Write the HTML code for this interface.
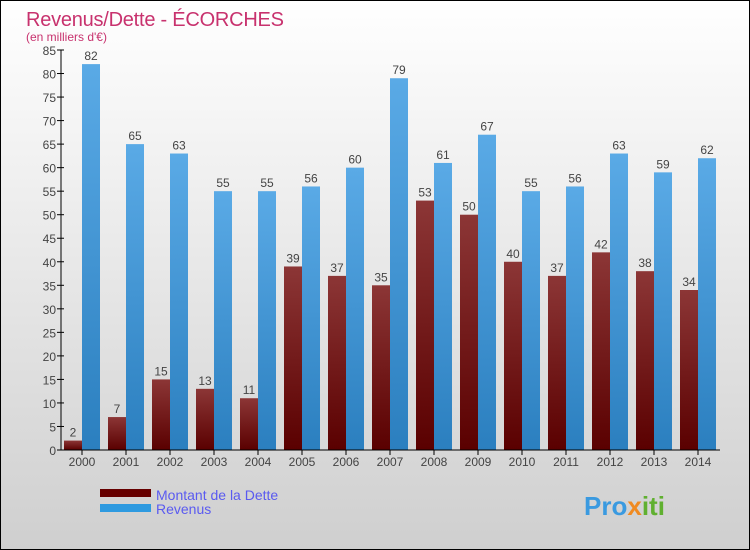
<!DOCTYPE html>
<html><head><meta charset="utf-8"><style>
body{margin:0}
svg{display:block;font-family:"Liberation Sans",sans-serif}
</style></head><body>
<svg id="c" width="750" height="550" xmlns="http://www.w3.org/2000/svg">
<defs>
<linearGradient id="bg" x1="0" y1="0" x2="0" y2="1"><stop offset="0" stop-color="#ffffff"/><stop offset="1" stop-color="#cfcfcf"/></linearGradient>
<linearGradient id="gd" x1="0" y1="0" x2="0" y2="1"><stop offset="0" stop-color="#8c3636"/><stop offset="1" stop-color="#5a0000"/></linearGradient>
<linearGradient id="gr" x1="0" y1="0" x2="0" y2="1"><stop offset="0" stop-color="#5aaae6"/><stop offset="1" stop-color="#2b7fbf"/></linearGradient>
</defs>
<rect x="0.5" y="0.5" width="749" height="549" fill="url(#bg)" stroke="#000"/>
<text x="26" y="26" font-size="20" fill="#c8326e" textLength="258">Revenus/Dette - ÉCORCHES</text>
<text x="26" y="41" font-size="12" fill="#c8326e">(en milliers d'€)</text>
<g id="plot"></g>
<rect x="100" y="489" width="51" height="8" fill="#660000"/>
<text x="156" y="500" font-size="14" fill="#5a5af0">Montant de la Dette</text>
<rect x="100" y="504" width="51" height="8" fill="#2e9ae0"/>
<text x="156" y="514" font-size="14" fill="#5a5af0">Revenus</text>
<text x="584" y="515" font-size="26" font-weight="bold" fill="#3a9ae0">Pro<tspan fill="#f08a20">x</tspan><tspan fill="#60b030">iti</tspan></text>
</svg>
<script>
const years=["2000","2001","2002","2003","2004","2005","2006","2007","2008","2009","2010","2011","2012","2013","2014"];
const debt=[2,7,15,13,11,39,37,35,53,50,40,37,42,38,34];
const revenue=[82,65,63,55,55,56,60,79,61,67,55,56,63,59,62];
const yTicks=[0,5,10,15,20,25,30,35,40,45,50,55,60,65,70,75,80,85];
const NS="http://www.w3.org/2000/svg";
const g=document.getElementById('plot');
const y=v=>450-v*400/85;
const x=i=>82+i*44;
function el(t,a,p){const e=document.createElementNS(NS,t);for(const k in a)e.setAttribute(k,a[k]);(p||g).appendChild(e);return e;}
yTicks.forEach(v=>{
 const t=el('line',{x1:57,x2:64,y1:y(v),y2:y(v),stroke:'#000'});
 
 
 const l=el('text',{x:56,y:y(v)+5,'font-size':12,fill:'#444','text-anchor':'end'});
 l.textContent=v;
 
 
});
years.forEach((yr,i)=>{
 const b1=el('rect',{x:x(i)-18,y:y(debt[i]),width:18,height:450-y(debt[i]),fill:'url(#gd)'});
 
 
 const b2=el('rect',{x:x(i),y:y(revenue[i]),width:18,height:450-y(revenue[i]),fill:'url(#gr)'});
 
 
 const t1=el('text',{x:x(i)-9,y:y(debt[i])-4,'font-size':12,fill:'#444','text-anchor':'middle'});
 t1.textContent=debt[i];
 
 
 const t2=el('text',{x:x(i)+9,y:y(revenue[i])-4,'font-size':12,fill:'#444','text-anchor':'middle'});
 t2.textContent=revenue[i];
 
 
 const tk=el('line',{x1:x(i),x2:x(i),y1:450,y2:455,stroke:'#000'});
 
 
 const xl=el('text',{x:x(i),y:466,'font-size':12,fill:'#444','text-anchor':'middle'});
 xl.textContent=yr;
 
 
});
const ax=el('line',{x1:61,x2:61,y1:50,y2:450,stroke:'#000'});


const xa=el('line',{x1:58,x2:720,y1:450,y2:450,stroke:'#000'});


</script>
</body></html>
